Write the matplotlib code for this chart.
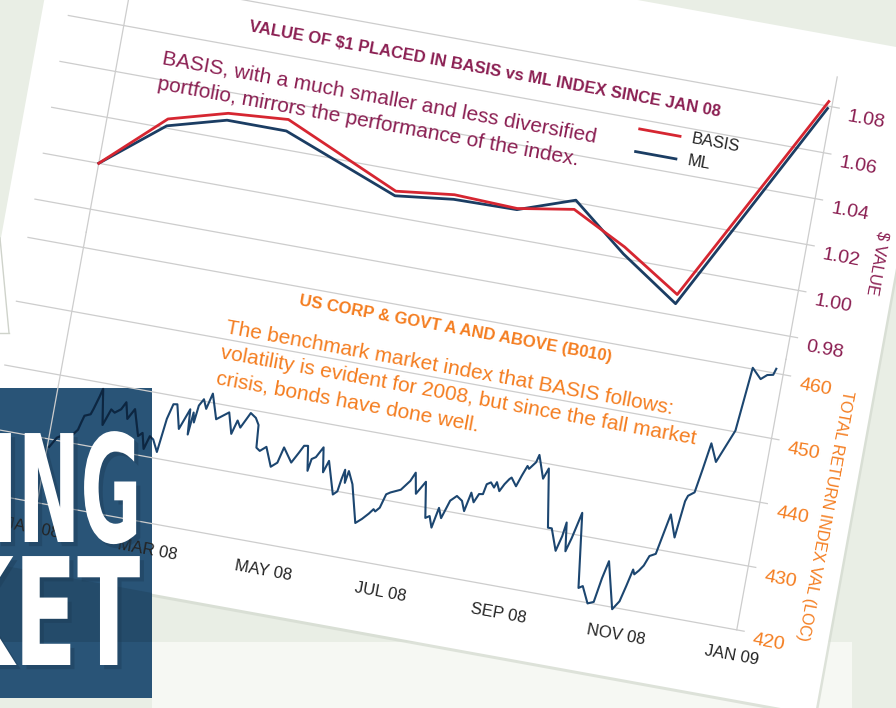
import numpy as np
import matplotlib
matplotlib.use("Agg")
import matplotlib.pyplot as plt
import matplotlib.colors as mcolors
from matplotlib.transforms import Affine2D, IdentityTransform
from matplotlib.patches import Rectangle, Polygon
from matplotlib.patheffects import AbstractPathEffect

# ---- data -------------------------------------------------------------
value_dates = np.array(["2008-01-01", "2008-02-01", "2008-03-02", "2008-04-02",
                        "2008-06-02", "2008-07-02", "2008-08-04", "2008-09-02",
                        "2008-10-01", "2008-11-01", "2008-12-30"], dtype="datetime64[D]")
basis = [1.000, 1.024, 1.031, 1.033, 1.011, 1.014, 1.013, 1.017, 1.005, 0.989, 1.082]
ml = [1.000, 1.021, 1.028, 1.028, 1.009, 1.012, 1.0125, 1.021, 1.002, 0.985, 1.079]

# benchmark index: day of 2008 and value
index_day = [1, 4, 6, 8, 10, 11, 14, 15, 16, 19,
             20, 22, 23, 26, 29, 31, 34, 36, 38, 41,
             45, 47, 49, 51, 53, 56, 58, 60, 62, 65,
             69, 70, 71, 72, 73, 75, 77, 79, 83, 89,
             92, 94, 96, 100, 103, 105, 106, 108, 111, 115,
             118, 120, 125, 128, 130, 132, 134, 135, 137, 140,
             142, 144, 149, 151, 152, 153, 154, 155, 158, 163,
             166, 169, 171, 172, 174, 176, 178, 183, 187, 189,
             191, 195, 198, 200, 202, 204, 206, 209, 212,
             215, 217, 219, 221, 223, 225, 226, 228, 230, 231,
             233, 235, 237, 238, 241, 243, 245, 246, 249, 250,
             254, 256, 261, 263, 267, 269, 270, 272, 274, 277,
             282, 284, 288, 291, 293, 295, 301, 304, 306, 308,
             309, 311, 313, 315, 318, 322, 326, 328, 329, 332,
             334, 336, 340, 347, 350, 355, 358, 361, 362]
index_val = [428.8, 430.4, 430.8, 431.2, 430.4, 431.0, 432.2, 433.4, 434.5, 434.9,
             435.8, 437.9, 439.1, 433.6, 436.2, 435.8, 436.5, 437.7, 435.2, 436.9,
             432.9, 433.5, 431.1, 433.2, 432.8, 431.0, 436.3, 438.7, 438.8, 435.1,
             438.4, 434.5, 438.0, 436.5, 439.2, 440.3, 438.9, 441.4, 437.6, 439.0,
             435.8, 438.0, 437.0, 439.5, 438.9, 437.9, 434.4, 434.0, 434.8, 431.9,
             432.7, 435.2, 433.1, 434.8, 436.0, 436.1, 432.3, 434.2, 434.6, 436.3,
             432.5, 434.4, 429.4, 430.0, 432.0, 433.5, 431.5, 433.4, 431.5, 425.7,
             426.5, 427.5, 428.3, 428.0, 428.7, 430.9, 431.3, 432.0, 433.6, 435.0,
             431.8, 433.9, 428.4, 428.8, 427.1, 430.3, 428.8, 431.7, 432.6,
             432.0, 430.5, 433.5, 432.1, 433.5, 433.6, 435.2, 435.6, 434.9, 435.8,
             434.5, 435.7, 436.6, 436.9, 435.7, 437.5, 439.1, 438.7, 439.9, 441.1,
             437.6, 439.3, 430.3, 430.3, 427.0, 429.4, 431.6, 427.2, 429.4, 433.5,
             422.0, 422.4, 419.9, 420.3, 424.1, 426.9, 419.7, 421.1, 423.6, 426.3,
             425.6, 426.3, 427.2, 428.8, 429.3, 435.7, 432.3, 438.1, 439.0, 439.7,
             443.5, 447.6, 444.9, 450.2, 460.2, 458.7, 459.5, 459.7, 460.7]
index_dates = np.datetime64("2008-01-01") + np.array(index_day).astype("timedelta64[D]")

value_ticks = [0.98, 1.00, 1.02, 1.04, 1.06, 1.08]
index_ticks = [420, 430, 440, 450, 460]
month_ticks = np.array(["2008-01-01", "2008-03-01", "2008-05-01", "2008-07-01",
                        "2008-09-01", "2008-11-01", "2009-01-01"], dtype="datetime64[D]")
month_labels = ["JAN 08", "MAR 08", "MAY 08", "JUL 08", "SEP 08", "NOV 08", "JAN 09"]

# ---- style ------------------------------------------------------------
W, H = 896, 708
ANG = 10.3
BG = "#e9eee5"
MAROON = "#8b1f52"
ORANGE = "#f47d20"
RED = "#d62631"
NAVY = "#1b3d63"
NAVY2 = "#1c4670"
GRID = "#cdcdcd"
INK = "#232323"
FONT = ["Liberation Sans", "DejaVu Sans"]
plt.rcParams["font.family"] = FONT

c, s = np.cos(np.radians(ANG)), np.sin(np.radians(ANG))
# the whole card is drawn unrotated, then tilted clockwise
rot = Affine2D().rotate_deg(-ANG).translate(-s * H, H * (1 - c))


class Squeeze(AbstractPathEffect):
    """narrow the glyphs horizontally (condensed poster type)"""
    def __init__(self, sx, offset=(0, 0), color=None, alpha=None):
        super().__init__(offset)
        self.sx, self.color, self.alpha = sx, color, alpha

    def draw_path(self, renderer, gc, tpath, affine, rgbFace=None):
        gc0 = renderer.new_gc()
        gc0.copy_properties(gc)
        if self.color is not None:
            rgbFace = mcolors.to_rgba(self.color)
        if self.alpha is not None:
            gc0.set_alpha(self.alpha)
        tr = Affine2D().scale(self.sx, 1) + affine + self._offset_transform(renderer)
        renderer.draw_path(gc0, tpath, tr, rgbFace)
        gc0.restore()


fig = plt.figure(figsize=(W / 100, H / 100), dpi=100, facecolor=BG)

# page furniture
fig.add_artist(Rectangle((152, 0), 700, 66, transform=IdentityTransform(),
                         facecolor="#f6f8f3", edgecolor="none", zorder=-6))
fig.add_artist(Rectangle((46, 148), 886, 671, transform=rot,
                         facecolor="#d3d9cf", edgecolor="none", alpha=0.7, zorder=-5))
fig.add_artist(Rectangle((43.5, 151), 886, 671, transform=rot,
                         facecolor="white", edgecolor="none", zorder=-4))
block = Rectangle((0, 10), 152, 310, transform=IdentityTransform(),
                  facecolor="#295477", edgecolor="none", zorder=-3)
fig.add_artist(block)
fig.add_artist(Polygon([(0, 143), (152, 115), (152, 66), (0, 66)],
                       transform=IdentityTransform(), facecolor="#244b6a",
                       edgecolor="none", zorder=-2.9))
for xs, ys in (([0, 9], [470, 375]), ([9, 0], [375, 375])):
    fig.add_artist(plt.Line2D(xs, ys, transform=IdentityTransform(),
                              color="#cfd3cb", lw=1, zorder=-2))

# ---- axes (placed in the unrotated card frame) -----------------------
U0, U1 = 70, 837.5


def card_axes(v_top, v_bot):
    ax = fig.add_axes([U0 / W, (H - v_bot) / H, (U1 - U0) / W, (v_bot - v_top) / H])
    ax.set_axis_off()
    ax.patch.set_visible(False)
    ax.set_xlim(np.datetime64("2007-12-03"), np.datetime64("2009-01-01"))
    return ax


ax1 = card_axes(-74, 213)
ax2 = card_axes(213, 488)
ax1.set_ylim(0.97, 1.093)
ax2.set_ylim(420, 462.4)

for ax, ticks, tcol in ((ax1, value_ticks, MAROON), (ax2, index_ticks, ORANGE)):
    ytr = ax.get_yaxis_transform() + rot
    lab_tr = ax.get_yaxis_transform() + Affine2D().translate(0, -7) + rot
    for t in ticks:
        ax.plot([0, 1.0098], [t, t], transform=ytr, color=GRID, lw=0.9,
                clip_on=False, zorder=1)
        ax.text(1.0228, t, f"{t:.2f}" if t < 100 else f"{t:d}", transform=lab_tr,
                color=tcol, fontsize=14, ha="left", va="center",
                rotation=-ANG, rotation_mode="anchor")
    xtr = ax.get_xaxis_transform() + rot
    for d in (month_ticks[0], month_ticks[-1]):
        ax.plot([d, d], [0, 1], transform=xtr, color=GRID, lw=0.9,
                clip_on=False, zorder=1)

# top chart
t1 = ax1.transData + rot
ax1.plot(value_dates, ml, color=NAVY, lw=2.0, transform=t1, clip_on=False, zorder=3)
ax1.plot(value_dates, basis, color=RED, lw=2.0, transform=t1, clip_on=False, zorder=4)

a1 = ax1.transAxes + rot
kw = dict(transform=a1, rotation=-ANG, rotation_mode="anchor")
ax1.text(0.5466, 0.789, "VALUE OF $1 PLACED IN BASIS vs ML INDEX SINCE JAN 08",
         color=MAROON, fontsize=12, fontweight="bold", ha="center", va="baseline", **kw)
ax1.text(0.1303, 0.6254, "BASIS, with a much smaller and less diversified",
         color=MAROON, fontsize=15, ha="left", va="baseline", **kw)
ax1.text(0.1303, 0.5331, "portfolio, mirrors the performance of the index.",
         color=MAROON, fontsize=15, ha="left", va="baseline", **kw)
for y, col, name in ((0.6986, RED, "BASIS"), (0.6185, NAVY, "ML")):
    ax1.plot([0.7589, 0.8123], [y, y], transform=a1, color=col, lw=2.0, clip_on=False)
    ax1.text(0.8274, y, name, color=INK, fontsize=12, ha="left", va="center", **kw)
ax1.text(1.094, 0.3885, "$ VALUE", transform=a1, color=MAROON, fontsize=11.5,
         ha="center", va="center", rotation=-90 - ANG, rotation_mode="anchor")

# bottom chart
t2 = ax2.transData + rot
ax2.plot(index_dates, index_val, color=NAVY2, lw=1.5, transform=t2,
         clip_on=False, zorder=3)
# where it crosses the blue block the line reads darker
dark, = ax2.plot(index_dates, index_val, color="#0d2640", lw=1.5, transform=t2,
                 zorder=3.5)
dark.set_clip_path(block)

a2 = ax2.transAxes + rot
kw = dict(transform=a2, rotation=-ANG, rotation_mode="anchor")
ax2.text(0.5694, 0.8764, "US CORP & GOVT A AND ABOVE (B010)",
         color=ORANGE, fontsize=12, fontweight="bold", ha="center", va="baseline", **kw)
sub2 = ["The benchmark market index that BASIS follows:",
        "volatility is evident for 2008, but since the fall market",
        "crisis, bonds have done well."]
for y, line in zip((0.7295, 0.6367, 0.5429), sub2):
    ax2.text(0.2743, y, line, color=ORANGE, fontsize=15, ha="left", va="baseline", **kw)
ax2.text(1.0864, 0.468, "TOTAL RETURN INDEX VAL (LOC)", transform=a2, color=ORANGE,
         fontsize=11.5, ha="center", va="center", rotation=-90 - ANG,
         rotation_mode="anchor")

xtr = ax2.get_xaxis_transform() + rot
for d, lab in zip(month_ticks, month_labels):
    ax2.text(d, -0.096, lab, transform=xtr, color=INK, fontsize=12,
             ha="center", va="center", rotation=-ANG, rotation_mode="anchor")

# poster lettering on the blue block
for y, word, x0, sx in ((166, "ING", -10, 0.5), (43, "KET", -58, 0.62)):
    fig.text(x0, y, word, transform=IdentityTransform(), color="white",
             fontsize=107.6, fontweight="bold", family="DejaVu Sans",
             ha="left", va="baseline", zorder=3,
             path_effects=[Squeeze(sx, offset=(3, -3), color="#1d3d58", alpha=0.45),
                           Squeeze(sx)])

fig.savefig("out.png", dpi=100, facecolor=BG)
